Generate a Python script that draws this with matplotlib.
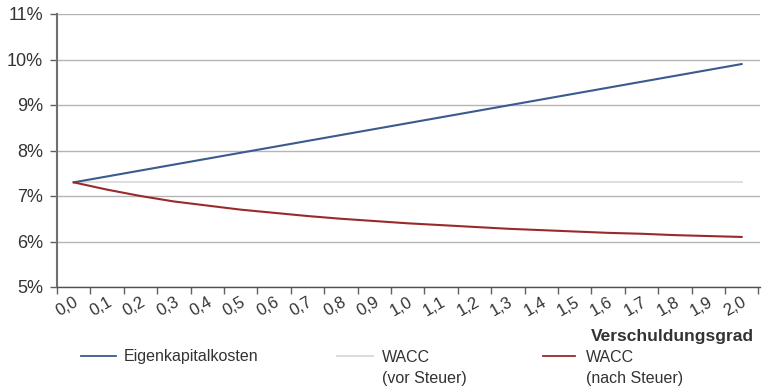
import matplotlib
matplotlib.use("Agg")
import matplotlib.pyplot as plt
from matplotlib.lines import Line2D
from matplotlib.ticker import FixedLocator

plt.rcParams["font.family"] = ["Liberation Sans", "DejaVu Sans"]

labels = ["0,0", "0,1", "0,2", "0,3", "0,4", "0,5", "0,6", "0,7", "0,8", "0,9", "1,0",
          "1,1", "1,2", "1,3", "1,4", "1,5", "1,6", "1,7", "1,8", "1,9", "2,0"]
eigenkapital = [7.30, 7.43, 7.56, 7.69, 7.82, 7.95, 8.08, 8.21, 8.34, 8.47, 8.60,
                8.73, 8.86, 8.99, 9.12, 9.25, 9.38, 9.51, 9.64, 9.77, 9.90]
wacc_vor = [7.30] * 21
wacc_nach = [7.30, 7.14, 7.00, 6.88, 6.79, 6.70, 6.63, 6.56, 6.50, 6.45, 6.40,
             6.36, 6.32, 6.28, 6.25, 6.22, 6.19, 6.17, 6.14, 6.12, 6.10]
yticks = [5, 6, 7, 8, 9, 10, 11]

W, H = 763, 392
fig = plt.figure(figsize=(W / 100, H / 100), dpi=100)
ax = fig.add_axes([57 / W, 1 - 287 / H, (760 - 57) / W, (287 - 14) / H])

txt = "#333333"
blue = "#3b5b8e"
red = "#9a2a2a"
gray_line = "#d8d8d8"

x = list(range(len(labels)))
ax.plot(x, wacc_vor, color=gray_line, lw=1.2, zorder=3)
ax.plot(x, eigenkapital, color=blue, lw=1.5, zorder=4)
ax.plot(x, wacc_nach, color=red, lw=1.5, zorder=4)

ax.set_xlim(-0.5, len(labels) - 0.45)
ax.set_ylim(5, 11)
ax.set_yticks(yticks)
ax.set_yticklabels([f"{v}%" for v in yticks], fontsize=13, color=txt)
ax.yaxis.grid(True, color="#b5b5b5", lw=1.0)
ax.set_axisbelow(True)

ax.set_xticks(x)
ax.set_xticklabels(labels, rotation=30, ha="right", rotation_mode="anchor",
                   fontsize=12, color=txt)
ax.xaxis.set_minor_locator(FixedLocator([i - 0.5 for i in range(len(labels) + 1)]))
ax.tick_params(axis="x", which="major", length=0, pad=5)
ax.tick_params(axis="x", which="minor", length=5, width=1.0, color="#606060")
ax.tick_params(axis="y", length=5, width=1.0, color="#606060", pad=5)

for s in ["top", "right"]:
    ax.spines[s].set_visible(False)
ax.spines["left"].set_color("#707070")
ax.spines["left"].set_linewidth(1.5)
ax.spines["bottom"].set_color("#505050")
ax.spines["bottom"].set_linewidth(1.0)

fig.text(754 / W, 1 - 336 / H, "Verschuldungsgrad", ha="right", va="center",
         fontsize=12.5, fontweight="bold", color=txt)

def legend_item(x0, x1, xt, color, lines):
    fig.add_artist(Line2D([x0 / W, x1 / W], [1 - 356 / H, 1 - 356 / H],
                          color=color, lw=1.3, transform=fig.transFigure))
    for k, t in enumerate(lines):
        fig.text(xt / W, 1 - (357 + 21 * k) / H, t, ha="left", va="center",
                 fontsize=11.5, color=txt)

legend_item(81, 116, 124, blue, ["Eigenkapitalkosten"])
legend_item(337, 373, 382, gray_line, ["WACC", "(vor Steuer)"])
legend_item(543, 575, 586, red, ["WACC", "(nach Steuer)"])

fig.savefig("out.png", dpi=100)
